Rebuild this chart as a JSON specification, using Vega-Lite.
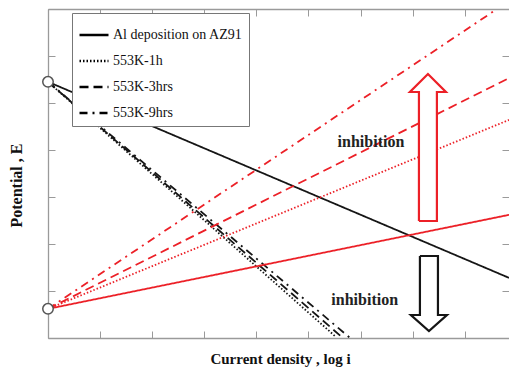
{
  "$schema": "https://vega.github.io/schema/vega-lite/v6.json",
  "width": 461,
  "height": 329,
  "autosize": "none",
  "padding": {"left": 48, "top": 9, "right": 0, "bottom": 34},
  "background": "white",
  "config": {
    "view": {"stroke": null},
    "axis": {
      "grid": false,
      "labels": false,
      "domainColor": "#9a9a9a",
      "domainWidth": 1.3,
      "tickColor": "#9a9a9a",
      "tickWidth": 1,
      "tickSize": -7,
      "titleFont": "Liberation Serif",
      "titleFontWeight": "bold",
      "titleColor": "#111111",
      "titleFontSize": 15
    }
  },
  "datasets": {
    "lines": [
      {"series": "Al deposition on AZ91", "kind": "anodic", "x": 0, "y": 5.45},
      {"series": "Al deposition on AZ91", "kind": "anodic", "x": 8.85, "y": 1.28},
      {"series": "553K-1h", "kind": "anodic", "x": 0, "y": 5.45},
      {"series": "553K-1h", "kind": "anodic", "x": 5.51, "y": 0.04},
      {"series": "553K-3hrs", "kind": "anodic", "x": 0, "y": 5.45},
      {"series": "553K-3hrs", "kind": "anodic", "x": 5.62, "y": 0.04},
      {"series": "553K-9hrs", "kind": "anodic", "x": 0, "y": 5.45},
      {"series": "553K-9hrs", "kind": "anodic", "x": 5.8, "y": 0.0},
      {"series": "Al deposition on AZ91", "kind": "cathodic", "x": 0, "y": 0.62},
      {"series": "Al deposition on AZ91", "kind": "cathodic", "x": 8.85, "y": 2.62},
      {"series": "553K-1h", "kind": "cathodic", "x": 0, "y": 0.62},
      {"series": "553K-1h", "kind": "cathodic", "x": 8.85, "y": 4.64},
      {"series": "553K-3hrs", "kind": "cathodic", "x": 0, "y": 0.62},
      {"series": "553K-3hrs", "kind": "cathodic", "x": 8.85, "y": 5.53},
      {"series": "553K-9hrs", "kind": "cathodic", "x": 0, "y": 0.62},
      {"series": "553K-9hrs", "kind": "cathodic", "x": 8.62, "y": 7.0}
    ],
    "arrows": [
      {"kind": "cathodic", "i": 0, "x": 7.121, "y": 2.489},
      {"kind": "cathodic", "i": 1, "x": 7.121, "y": 5.234},
      {"kind": "cathodic", "i": 2, "x": 6.948, "y": 5.234},
      {"kind": "cathodic", "i": 3, "x": 7.294, "y": 5.617},
      {"kind": "cathodic", "i": 4, "x": 7.639, "y": 5.234},
      {"kind": "cathodic", "i": 5, "x": 7.466, "y": 5.234},
      {"kind": "cathodic", "i": 6, "x": 7.466, "y": 2.489},
      {"kind": "cathodic", "i": 7, "x": 7.121, "y": 2.489},
      {"kind": "anodic", "i": 0, "x": 7.14, "y": 1.745},
      {"kind": "anodic", "i": 1, "x": 7.14, "y": 0.489},
      {"kind": "anodic", "i": 2, "x": 6.967, "y": 0.489},
      {"kind": "anodic", "i": 3, "x": 7.313, "y": 0.149},
      {"kind": "anodic", "i": 4, "x": 7.658, "y": 0.489},
      {"kind": "anodic", "i": 5, "x": 7.486, "y": 0.489},
      {"kind": "anodic", "i": 6, "x": 7.486, "y": 1.745},
      {"kind": "anodic", "i": 7, "x": 7.14, "y": 1.745}
    ],
    "labels": [
      {"label": "inhibition", "x": 6.2, "y": 4.17},
      {"label": "inhibition", "x": 6.08, "y": 0.81}
    ],
    "circles": [
      {"x": 0, "y": 5.45},
      {"x": 0, "y": 0.62}
    ]
  },
  "layer": [
    {
      "data": {"name": "lines"},
      "mark": {"type": "line", "strokeWidth": 1.8, "clip": true},
      "encoding": {
        "x": {
          "field": "x", "type": "quantitative",
          "scale": {"domain": [0, 8.85], "nice": false, "zero": false},
          "axis": {
            "orient": "bottom",
            "values": [0, 1, 2, 3, 4, 5, 6, 7, 8],
            "title": "Current density , log i",
            "titleX": 232, "titleY": 25,
            "titleAlign": "center", "titleBaseline": "alphabetic"
          }
        },
        "y": {
          "field": "y", "type": "quantitative",
          "scale": {"domain": [0, 7], "nice": false, "zero": false},
          "axis": {
            "orient": "left",
            "values": [0, 1, 2, 3, 4, 5, 6, 7],
            "title": "Potential , E",
            "titleFontSize": 16,
            "titleX": -32, "titleY": 176,
            "titleAngle": 270,
            "titleAlign": "center", "titleBaseline": "middle"
          }
        },
        "color": {
          "field": "kind", "type": "nominal",
          "scale": {"domain": ["anodic", "cathodic"], "range": ["#151515", "#ec2027"]},
          "legend": null
        },
        "strokeDash": {
          "field": "series", "type": "nominal",
          "scale": {
            "domain": ["Al deposition on AZ91", "553K-1h", "553K-3hrs", "553K-9hrs"],
            "range": [[1, 0], [1.5, 2], [9, 5], [8, 5, 2, 5]]
          },
          "legend": {
            "orient": "none",
            "legendX": 24,
            "legendY": 4,
            "title": null,
            "symbolType": "stroke",
            "symbolStrokeColor": "#000000",
            "symbolStrokeWidth": 2.6,
            "symbolSize": 841,
            "labelFont": "Liberation Serif",
            "labelFontSize": 14,
            "labelColor": "#111111",
            "labelOffset": 3,
            "labelLimit": 0,
            "rowPadding": 3,
            "padding": 6,
            "strokeColor": "#777777",
            "fillColor": "white"
          }
        }
      }
    },
    {
      "data": {"name": "arrows"},
      "mark": {"type": "line", "strokeWidth": 2.2, "fill": "white", "strokeJoin": "miter"},
      "encoding": {
        "x": {"field": "x", "type": "quantitative", "scale": {"domain": [0, 8.85], "nice": false, "zero": false}, "axis": null},
        "y": {"field": "y", "type": "quantitative", "scale": {"domain": [0, 7], "nice": false, "zero": false}, "axis": null},
        "color": {"field": "kind", "type": "nominal", "legend": null},
        "order": {"field": "i", "type": "quantitative"}
      }
    },
    {
      "data": {"name": "labels"},
      "mark": {"type": "text", "font": "Liberation Serif", "fontWeight": "bold", "fontSize": 16, "color": "#222222", "align": "center", "baseline": "middle"},
      "encoding": {
        "x": {"field": "x", "type": "quantitative", "scale": {"domain": [0, 8.85], "nice": false, "zero": false}, "axis": null},
        "y": {"field": "y", "type": "quantitative", "scale": {"domain": [0, 7], "nice": false, "zero": false}, "axis": null},
        "text": {"field": "label"}
      }
    },
    {
      "data": {"name": "circles"},
      "mark": {"type": "point", "shape": "circle", "size": 110, "filled": false, "fill": "white", "stroke": "#555555", "strokeWidth": 1.5, "opacity": 1},
      "encoding": {
        "x": {
          "field": "x", "type": "quantitative",
          "scale": {"domain": [0, 8.85], "nice": false, "zero": false},
          "axis": {"orient": "top", "values": [0, 1, 2, 3, 4, 5, 6, 7, 8], "title": null}
        },
        "y": {
          "field": "y", "type": "quantitative",
          "scale": {"domain": [0, 7], "nice": false, "zero": false},
          "axis": {"orient": "right", "values": [0, 1, 2, 3, 4, 5, 6, 7], "title": null, "domain": false}
        }
      }
    }
  ],
  "resolve": {"axis": {"x": "independent", "y": "independent"}}
}
